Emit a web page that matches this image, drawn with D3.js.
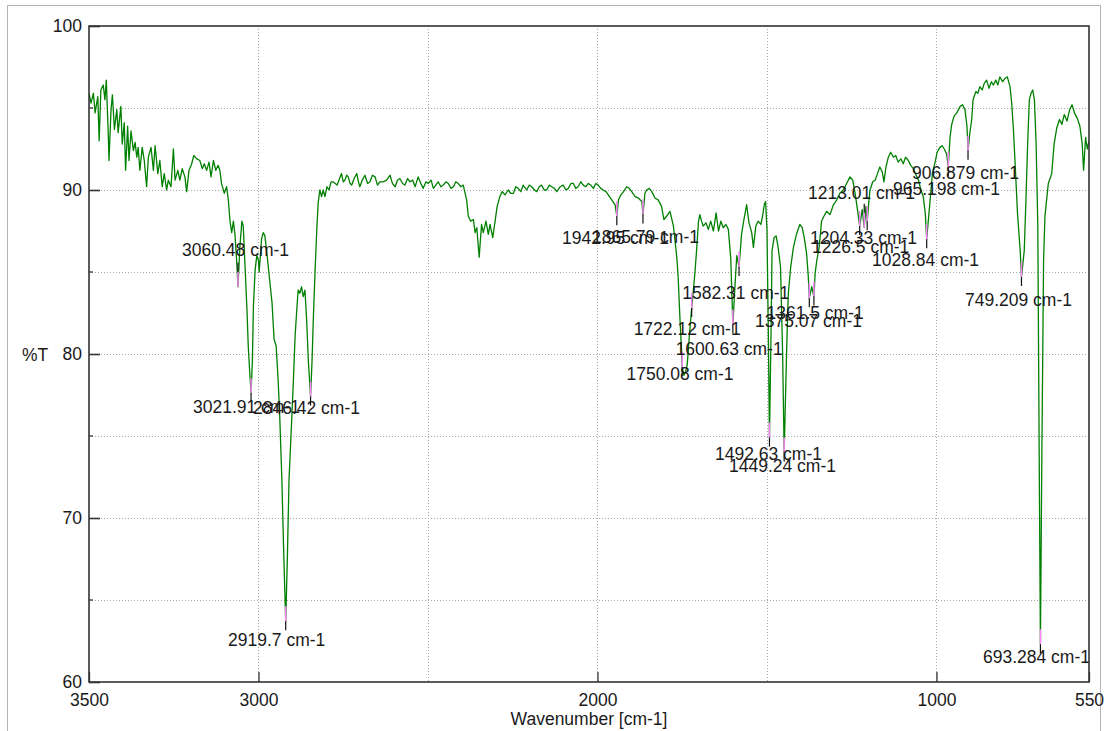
<!DOCTYPE html>
<html><head><meta charset="utf-8">
<script src="https://cdn.jsdelivr.net/npm/d3@7"></script>
<style>
body{margin:0;background:#fff}
text{font-family:"Liberation Sans",Arial,sans-serif;fill:#1a1a1a}
</style>
</head><body>
<svg id="chart" width="1105" height="731"></svg>
<script>
// ---- data: IR spectrum [wavenumber cm-1, %T] ----
const spectrum = [
[3500,95.9],[3494,95.3],[3487,95.9],[3482,94.7],[3474,95.7],[3470,93.0],[3465,96.1],[3458,96.4],[3453,95.5],[3449,96.7],
[3443,93.3],[3441,91.8],[3435,94.9],[3431,95.8],[3425,93.7],[3418,94.9],[3414,93.5],[3406,95.1],[3402,92.8],[3396,94.1],
[3392,91.2],[3386,93.9],[3382,91.8],[3376,93.6],[3369,92.4],[3364,92.9],[3359,92.0],[3355,92.6],[3350,91.2],[3343,92.6],
[3337,91.8],[3330,90.2],[3325,92.0],[3317,92.6],[3310,91.2],[3305,92.7],[3297,91.0],[3291,91.8],[3284,90.2],[3278,91.0],
[3271,90.0],[3266,90.6],[3258,90.2],[3251,92.5],[3246,90.6],[3238,91.2],[3232,90.6],[3225,91.3],[3217,90.8],[3212,89.9],
[3205,91.2],[3197,91.6],[3191,92.1],[3182,91.9],[3173,91.8],[3166,91.3],[3160,91.6],[3153,91.2],[3146,91.7],[3140,90.8],
[3133,91.8],[3126,91.2],[3119,91.5],[3114,91.2],[3109,90.4],[3101,89.8],[3094,90.2],[3089,89.4],[3084,88.1],[3079,87.4],
[3074,88.1],[3069,87.2],[3064,85.5],[3060.48,84.1],[3055,86.5],[3049,88.1],[3045,87.8],[3040,85.5],[3034,82.7],[3030,80.4],
[3025,78.6],[3021.91,77.6],[3018,79.6],[3015,82.9],[3010,85.1],[3005,86.0],[3000,85.7],[2998,85.0],[2991,87.0],[2986,87.4],
[2981,87.2],[2973,85.7],[2966,84.3],[2960,83.1],[2954,80.9],[2948,80.5],[2942,78.4],[2937,76.0],[2931,72.3],[2925,67.4],
[2919.7,63.7],[2915,67.4],[2910,72.3],[2902,76.0],[2897,78.4],[2892,81.1],[2887,82.7],[2883,83.9],[2878,83.7],[2873,84.1],
[2868,83.5],[2863,83.9],[2858,82.1],[2853,79.6],[2846.42,77.4],[2842,79.6],[2838,82.3],[2833,85.1],[2828,87.6],[2824,89.2],
[2819,90.0],[2814,89.6],[2809,90.0],[2804,89.6],[2798,90.2],[2792,90.0],[2786,90.5],[2780,90.5],[2768,90.3],[2755,91.0],
[2750,90.5],[2745,90.6],[2740,90.9],[2735,90.8],[2730,90.4],[2725,90.3],[2718,90.7],[2710,91.0],[2705,90.5],[2701,90.2],
[2694,90.6],[2686,90.9],[2678,90.4],[2671,90.5],[2664,90.9],[2656,90.8],[2649,90.3],[2642,90.5],[2632,90.5],[2622,90.6],
[2612,90.9],[2605,90.4],[2597,90.2],[2590,90.6],[2583,90.7],[2575,90.4],[2568,90.3],[2560,90.7],[2553,90.5],[2545,90.6],
[2538,90.2],[2529,90.8],[2521,90.4],[2514,90.1],[2506,90.5],[2499,90.4],[2491,90.6],[2484,90.1],[2477,90.3],[2470,90.5],
[2462,90.2],[2455,90.3],[2447,90.5],[2440,90.4],[2432,90.1],[2425,90.2],[2418,90.5],[2411,90.4],[2403,90.2],[2396,90.3],
[2386,89.4],[2381,88.4],[2374,88.1],[2366,88.2],[2361,87.4],[2356,87.7],[2349,85.9],[2342,87.9],[2337,87.4],[2329,88.1],
[2322,87.3],[2317,87.9],[2309,87.1],[2302,88.1],[2296,89.0],[2288,89.6],[2281,89.9],[2273,89.7],[2263,90.0],[2256,89.8],
[2248,89.8],[2241,90.2],[2234,90.1],[2226,89.9],[2219,90.3],[2209,90.0],[2201,90.3],[2194,90.2],[2186,90.0],[2179,89.9],
[2172,90.2],[2165,90.3],[2157,90.0],[2150,90.0],[2142,90.3],[2135,90.2],[2127,90.1],[2120,89.9],[2110,90.2],[2101,90.3],
[2093,90.0],[2086,90.1],[2078,90.4],[2071,90.4],[2064,90.1],[2057,90.2],[2049,90.5],[2042,90.3],[2034,90.2],[2027,90.4],
[2020,90.3],[2012,90.1],[2005,90.4],[1998,90.3],[1990,90.1],[1983,90.0],[1975,89.9],[1968,89.7],[1958,89.4],[1948,89.1],
[1942.95,88.4],[1938,89.4],[1931,89.7],[1923,89.9],[1914,90.2],[1906,90.1],[1899,89.9],[1889,89.6],[1879,89.5],[1869,89.3],
[1865.79,88.5],[1860,89.8],[1855,90.0],[1847,90.1],[1840,89.9],[1830,89.5],[1821,89.4],[1811,89.0],[1804,88.2],[1796,88.4],
[1786,88.7],[1776,87.8],[1766,85.9],[1762,84.7],[1757,82.3],[1752,80.2],[1750.08,79.2],[1745,78.7],[1740,78.9],[1735,79.4],
[1729,81.1],[1722.12,82.8],[1717,83.9],[1712,85.1],[1707,86.5],[1702,88.1],[1698,88.5],[1693,88.1],[1688,87.8],[1680,88.0],
[1673,87.6],[1666,88.1],[1658,87.5],[1650,88.6],[1643,87.5],[1636,88.1],[1629,87.7],[1621,87.9],[1614,87.6],[1607,85.9],
[1600.63,81.8],[1594,84.3],[1589,86.0],[1582.31,85.3],[1575,87.3],[1568,88.2],[1560,89.1],[1553,88.0],[1545,87.4],[1540,86.5],
[1533,87.8],[1526,88.1],[1518,87.9],[1513,88.4],[1508,89.1],[1504,89.3],[1500,87.6],[1496,81.3],[1492.63,74.9],[1488,81.3],
[1485,86.3],[1479,87.1],[1473,87.2],[1467,86.5],[1460,85.3],[1454,80.2],[1449.24,74.0],[1442,80.2],[1437,83.7],[1430,85.3],
[1422,86.5],[1413,87.3],[1403,87.9],[1396,87.7],[1390,87.1],[1383,86.1],[1378,84.7],[1375.07,83.4],[1368,84.1],[1361.5,83.5],
[1358,84.9],[1353,85.7],[1346,86.5],[1339,88.1],[1332,88.4],[1324,88.7],[1314,88.5],[1304,89.1],[1294,89.4],[1285,89.8],
[1275,90.0],[1265,90.4],[1255,90.8],[1247,90.6],[1240,89.8],[1233,88.8],[1226.5,87.8],[1219,88.8],[1213.01,87.7],[1208,89.0],
[1204.33,88.1],[1199,89.4],[1196,90.0],[1188,90.5],[1181,90.6],[1174,91.0],[1167,91.4],[1160,91.1],[1155,90.5],[1149,91.4],
[1142,92.0],[1135,92.3],[1127,92.0],[1120,92.1],[1113,91.7],[1105,91.9],[1098,91.6],[1091,92.0],[1083,91.8],[1076,91.5],
[1068,91.3],[1060,90.9],[1053,90.6],[1047,90.1],[1039,89.6],[1033,88.6],[1028.84,87.0],[1022,88.6],[1017,89.8],[1012,91.0],
[1004,91.7],[998,92.3],[990,92.6],[983,92.7],[977,92.5],[970,92.2],[965.198,91.4],[960,93.2],[955,94.0],[948,94.5],
[940,94.7],[930,95.1],[923,95.2],[916,94.9],[910,93.9],[906.879,92.4],[902,93.4],[896,94.3],[892,95.5],[884,96.0],
[878,95.9],[872,96.3],[865,96.1],[859,96.5],[852,96.7],[845,96.2],[838,96.6],[832,96.4],[825,96.7],[819,96.4],
[813,96.9],[805,96.6],[798,96.8],[791,96.9],[783,96.3],[778,95.3],[773,93.7],[767,91.2],[761,88.6],[753,86.3],
[749.209,84.7],[741,86.3],[736,89.4],[731,92.8],[726,95.5],[721,95.9],[716,96.1],[711,95.5],[706,92.8],[701,87.8],
[697,74.1],[693.284,62.3],[689,74.1],[684,85.7],[680,88.4],[670,90.4],[660,91.0],[653,92.8],[645,93.8],[637,94.3],
[630,94.0],[623,94.6],[615,94.2],[607,94.9],[600,95.2],[593,94.7],[585,94.4],[577,93.9],[570,92.8],[566,91.2],
[560,93.2],[555,92.5],[550,93.0]
];

// ---- peak picks ----
const peakWavenumbers = [3060.48,3021.91,2919.7,2846.42,1942.95,1865.79,1750.08,1722.12,1600.63,1582.31,1492.63,1449.24,1375.07,1361.5,1226.5,1213.01,1204.33,1028.84,965.198,906.879,749.209,693.284];
const peakTransmittance = [84.1,77.6,63.7,77.4,88.4,88.5,79.2,82.8,81.8,85.3,74.9,74.0,83.4,83.5,87.8,87.7,88.1,87.0,91.4,92.4,84.7,62.3];
const peakLabels = ["3060.48 cm-1","3021.91 cm-1","2919.7 cm-1","2846.42 cm-1","1942.95 cm-1","1865.79 cm-1","1750.08 cm-1","1722.12 cm-1","1600.63 cm-1","1582.31 cm-1","1492.63 cm-1","1449.24 cm-1","1375.07 cm-1","1361.5 cm-1","1226.5 cm-1","1213.01 cm-1","1204.33 cm-1","1028.84 cm-1","965.198 cm-1","906.879 cm-1","749.209 cm-1","693.284 cm-1"];
// label anchors (left edge in cm-1, vertical centre in %T)
const labelWavenumbers = [3225.6,3193.2,3089.9,3016.2,2104.7,2016.2,1914.4,1893.3,1769.4,1749.7,1653.3,1612,1535.3,1501.4,1367.1,1379,1373,1190.1,1128.2,1072.1,915.8,862.7];
const labelTransmittance = [86.34,76.77,62.56,76.71,87.07,87.13,78.78,81.52,80.34,83.72,73.90,73.17,82.01,82.50,86.55,89.82,87.07,85.73,90.06,91.04,83.29,61.52];

// ---- axes ----
const xTickValues = [3500,3000,2000,1000,550];
const yTickValues = [100,90,80,70,60];
const yMinorTicks = [95,85,75,65];
const xGrid = [3000,2500,2000,1500,1000];
const yGrid = [95,90,85,80,75,70,65];
const xTitle = "Wavenumber [cm-1]";
const yTitle = "%T";

// ---- drawing ----
const svg = d3.select("#chart");
const L = 89, R = 1089, T = 26, B = 682;
const x = d3.scaleLinear().domain([3500,550]).range([L,R]);
const y = d3.scaleLinear().domain([60,100]).range([B,T]);

// outer border
svg.append("rect").attr("x",7.5).attr("y",5.5).attr("width",1093).attr("height",740)
  .attr("fill","none").attr("stroke","#b4b4b4").attr("stroke-width",1);

svg.append("clipPath").attr("id","plotclip").append("rect")
  .attr("x",L).attr("y",T).attr("width",R-L).attr("height",B-T);

// grid
const grid = svg.append("g").attr("stroke","#a8a8a8").attr("stroke-width",1).attr("stroke-dasharray","1,2");
grid.selectAll("line.gx").data(xGrid).join("line").attr("class","gx")
  .attr("x1",d=>Math.round(x(d))+0.5).attr("x2",d=>Math.round(x(d))+0.5).attr("y1",T).attr("y2",B);
grid.selectAll("line.gy").data(yGrid).join("line").attr("class","gy")
  .attr("y1",d=>Math.round(y(d))+0.5).attr("y2",d=>Math.round(y(d))+0.5).attr("x1",L).attr("x2",R);

const plot = svg.append("g").attr("clip-path","url(#plotclip)");

// spectrum
const line = d3.line().x(d=>x(d[0])).y(d=>y(d[1]));
plot.append("path").datum(spectrum).attr("d",line)
  .attr("fill","none").attr("stroke","#008000").attr("stroke-width",1.3).attr("stroke-linejoin","round");

// peak markers
const peaks = peakWavenumbers.map((w,i)=>({w, t:peakTransmittance[i], label:peakLabels[i], lw:labelWavenumbers[i], lt:labelTransmittance[i]}));
plot.selectAll("line.pk").data(peaks).join("line").attr("class","pk")
  .attr("x1",d=>x(d.w)).attr("x2",d=>x(d.w))
  .attr("y1",d=>y(d.t)-15).attr("y2",d=>y(d.t))
  .attr("stroke","#ff80ff").attr("stroke-width",1.5);
plot.selectAll("line.tk").data(peaks).join("line").attr("class","tk")
  .attr("x1",d=>x(d.w)).attr("x2",d=>x(d.w))
  .attr("y1",d=> d.lt>d.t ? y(d.t)-24 : y(d.t))
  .attr("y2",d=> d.lt>d.t ? y(d.t)-15 : y(d.t)+9)
  .attr("stroke","#111").attr("stroke-width",1.2);
plot.selectAll("text.pl").data(peaks).join("text").attr("class","pl")
  .attr("x",d=>x(d.lw)).attr("y",d=>y(d.lt)).attr("dy","0.35em")
  .attr("font-size","17.5px").text(d=>d.label);

// frame
svg.append("rect").attr("x",L).attr("y",T).attr("width",R-L).attr("height",B-T)
  .attr("fill","none").attr("stroke","#333").attr("stroke-width",1.6);

// axes
const xAxis = d3.axisBottom(x).tickValues(xTickValues).tickFormat(d3.format("d"))
  .tickSizeInner(-10).tickSizeOuter(0).tickPadding(12);
const gx = svg.append("g").attr("transform",`translate(0,${B})`).call(xAxis);
gx.select(".domain").remove();
gx.selectAll("line").attr("stroke","#333").attr("stroke-width",1.3);
gx.selectAll("text").attr("font-size","17.5px").attr("fill","#1a1a1a");

const yAxis = d3.axisLeft(y).tickValues(yTickValues).tickFormat(d3.format("d"))
  .tickSizeInner(-11).tickSizeOuter(0).tickPadding(7);
const gy = svg.append("g").attr("transform",`translate(${L},0)`).call(yAxis);
gy.select(".domain").remove();
gy.selectAll("line").attr("stroke","#333").attr("stroke-width",1.6);
gy.selectAll("text").attr("font-size","17.5px").attr("fill","#1a1a1a");

svg.append("g").selectAll("line").data(yMinorTicks).join("line")
  .attr("x1",L).attr("x2",L+4).attr("y1",d=>y(d)).attr("y2",d=>y(d))
  .attr("stroke","#333").attr("stroke-width",1.3);

svg.append("text").attr("x",(L+R)/2).attr("y",719).attr("dy","0.35em").attr("text-anchor","middle")
  .attr("font-size","17.5px").text(xTitle);
svg.append("text").attr("x",22).attr("y",355).attr("dy","0.35em")
  .attr("font-size","17.5px").text(yTitle);
</script>
</body></html>
